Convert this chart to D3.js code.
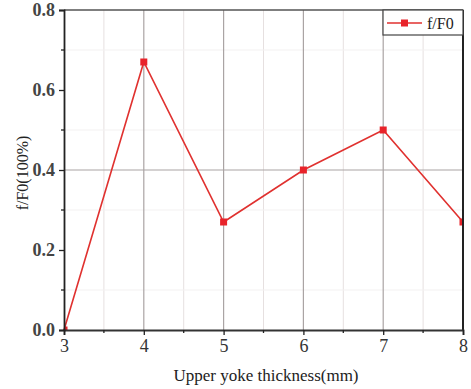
<!DOCTYPE html>
<html>
<head>
<meta charset="utf-8">
<script src="https://cdn.jsdelivr.net/npm/d3@7"></script>
<style>
  body { margin: 0; background: #fff; }
</style>
</head>
<body>
<div id="chart"></div>
<script>
// data
var thickness = [3, 4, 5, 6, 7, 8];
var ratio = [0, 0.67, 0.27, 0.40, 0.50, 0.27];
var xTicks = [3, 4, 5, 6, 7, 8];
var yTicks = [0, 0.2, 0.4, 0.6, 0.8];
var seriesName = "f/F0";

var serif = "'Liberation Serif', 'DejaVu Serif', serif";
var w = 471, h = 389;
var m = {top: 10, right: 8, bottom: 59, left: 64};

var svg = d3.select("#chart").append("svg")
  .attr("width", w)
  .attr("height", h)
  .attr("font-family", serif);

var x = d3.scaleLinear().domain([3, 8]).range([m.left, w - m.right]);
var y = d3.scaleLinear().domain([0, 0.8]).range([h - m.bottom, m.top]);

svg.append("defs").append("clipPath").attr("id", "plot")
  .append("rect")
  .attr("x", m.left).attr("y", m.top)
  .attr("width", x(8) - x(3)).attr("height", y(0) - y(0.8));

// minor grid (faint)
svg.append("g").selectAll("line")
  .data([3.5, 4.5, 5.5, 6.5, 7.5])
  .enter().append("line")
  .attr("x1", function(d){ return x(d); }).attr("x2", function(d){ return x(d); })
  .attr("y1", y(0)).attr("y2", y(0.8))
  .attr("stroke", "#e6e0e0").attr("stroke-width", 1);
svg.append("g").selectAll("line")
  .data([0.1, 0.3, 0.5, 0.7])
  .enter().append("line")
  .attr("x1", x(3)).attr("x2", x(8))
  .attr("y1", function(d){ return y(d); }).attr("y2", function(d){ return y(d); })
  .attr("stroke", "#f3f1f1").attr("stroke-width", 1);

// major grid
svg.append("g").selectAll("line")
  .data([4, 5, 6, 7])
  .enter().append("line")
  .attr("x1", function(d){ return x(d); }).attr("x2", function(d){ return x(d); })
  .attr("y1", y(0)).attr("y2", y(0.8))
  .attr("stroke", "#aaa4a4").attr("stroke-width", 1.2);
svg.append("line")
  .attr("x1", x(3)).attr("x2", x(8))
  .attr("y1", y(0.4)).attr("y2", y(0.4))
  .attr("stroke", "#aaa4a4").attr("stroke-width", 1.2);

// series
var line = d3.line()
  .x(function(d, i){ return x(thickness[i]); })
  .y(function(d){ return y(d); });

svg.append("path")
  .datum(ratio)
  .attr("d", line)
  .attr("fill", "none")
  .attr("stroke", "#e0312f")
  .attr("stroke-width", 1.6);

svg.append("g").attr("clip-path", "url(#plot)")
  .selectAll("rect")
  .data(ratio)
  .enter().append("rect")
  .attr("x", function(d, i){ return x(thickness[i]) - 3.5; })
  .attr("y", function(d){ return y(d) - 3.5; })
  .attr("width", 7).attr("height", 7)
  .attr("fill", "#e8232a");

// frame
svg.append("line")
  .attr("x1", x(3)).attr("x2", x(8)).attr("y1", y(0.8)).attr("y2", y(0.8))
  .attr("stroke", "#555").attr("stroke-width", 1.5);
svg.append("line")
  .attr("x1", x(8)).attr("x2", x(8)).attr("y1", y(0.8)).attr("y2", y(0))
  .attr("stroke", "#222").attr("stroke-width", 2);

// axes
var xAxis = d3.axisBottom(x).tickValues(xTicks).tickFormat(d3.format("d")).tickSizeOuter(0).tickSize(5).tickPadding(4);
var gx = svg.append("g").attr("transform", "translate(0," + y(0) + ")").call(xAxis)
  .attr("font-family", serif);
gx.selectAll(".tick line").attr("stroke", "#222").attr("stroke-width", 1.3);
gx.select(".domain").attr("stroke", "#333").attr("stroke-width", 1.8);
gx.selectAll("text").attr("font-size", 18).attr("fill", "#333");
gx.selectAll(".minor").data([3.5, 4.5, 5.5, 6.5, 7.5]).enter().append("line")
  .attr("x1", function(d){ return x(d); }).attr("x2", function(d){ return x(d); })
  .attr("y1", 0).attr("y2", 3).attr("stroke", "#222").attr("stroke-width", 1.3);

var yAxis = d3.axisLeft(y).tickValues(yTicks).tickFormat(d3.format(".1f")).tickSizeOuter(0).tickSize(5).tickPadding(4);
var gy = svg.append("g").attr("transform", "translate(" + x(3) + ",0)").call(yAxis)
  .attr("font-family", serif);
gy.selectAll(".tick line").attr("stroke", "#222").attr("stroke-width", 1.3);
gy.select(".domain").attr("stroke", "#222").attr("stroke-width", 1.8);
gy.selectAll("text").attr("font-size", 18).attr("font-weight", "bold").attr("fill", "#444");
gy.selectAll(".minor").data([0.1, 0.3, 0.5, 0.7]).enter().append("line")
  .attr("x1", 0).attr("x2", -3)
  .attr("y1", function(d){ return y(d); }).attr("y2", function(d){ return y(d); })
  .attr("stroke", "#222").attr("stroke-width", 1.3);

// axis titles
svg.append("text")
  .attr("x", 266).attr("y", 381)
  .attr("text-anchor", "middle")
  .attr("font-size", 17).attr("fill", "#222")
  .text("Upper yoke thickness(mm)");
svg.append("text")
  .attr("transform", "translate(28,173) rotate(-90)")
  .attr("text-anchor", "middle")
  .attr("font-size", 16).attr("fill", "#222")
  .text("f/F0(100%)");

// legend
var lg = svg.append("g").attr("transform", "translate(383," + m.top + ")");
lg.append("rect").attr("width", 80).attr("height", 25)
  .attr("fill", "#fff").attr("stroke", "#444").attr("stroke-width", 1.2);
lg.append("line").attr("x1", 4).attr("x2", 39).attr("y1", 13).attr("y2", 13)
  .attr("stroke", "#e0312f").attr("stroke-width", 1.6);
lg.append("rect").attr("x", 18).attr("y", 9.5).attr("width", 7).attr("height", 7).attr("fill", "#e8232a");
lg.append("text").attr("x", 44).attr("y", 18.5)
  .attr("font-size", 16).attr("fill", "#222").text(seriesName);
</script>
</body>
</html>
